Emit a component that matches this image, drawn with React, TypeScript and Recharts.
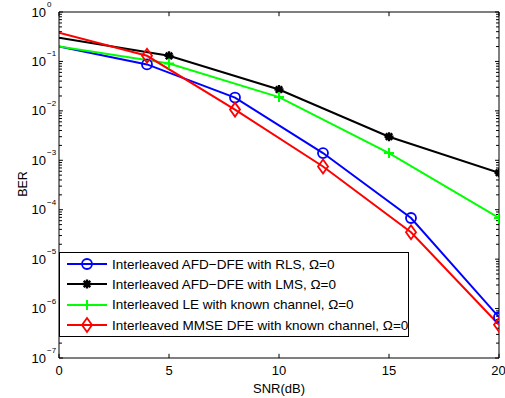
import { Legend, Line, LineChart, ReferenceLine, XAxis, YAxis } from 'recharts';

document.body.style.margin = '0';

// x positions (SNR in dB) for each curve
const snrRls = [0, 4, 8, 12, 16, 20];
const snrLms = [0, 5, 10, 15, 20];
const snrLe = [0, 5, 10, 15, 20];
const snrMmse = [0, 4, 8, 12, 16, 20];

// BER values
const berRls = [0.2, 0.087, 0.0186, 0.0014, 6.8e-5, 6.7e-7];
const berLms = [0.3, 0.13, 0.027, 0.003, 5.6e-4];
const berLe = [0.2, 0.091, 0.019, 0.0014, 6.8e-5];
const berMmse = [0.38, 0.13, 0.0106, 7.5e-4, 3.5e-5, 4.7e-7];

const xTicks = [0, 5, 10, 15, 20];
const yExponents = [-7, -6, -5, -4, -3, -2, -1, 0];
const yTicks = yExponents.map((e) => Math.pow(10, e));
const minorTicks = yExponents
    .slice(0, -1)
    .flatMap((e) => [2, 3, 4, 5, 6, 7, 8, 9].map((m) => m * Math.pow(10, e)));

const FONT = '"Liberation Sans", Arial, Helvetica, sans-serif';

const toRows = (xs: number[], ys: number[]) => xs.map((snr, i) => ({ snr, ber: ys[i] }));

type Shape = 'circle' | 'star' | 'plus' | 'diamond';

const Marker = ({ cx, cy, shape, color }: { cx: number; cy: number; shape: Shape; color: string }) => {
    if (shape === 'circle') {
        return <circle cx={cx} cy={cy} r={5} fill="none" stroke={color} strokeWidth={1.8} />;
    }
    if (shape === 'plus') {
        return (
            <path
                d={`M${cx - 5},${cy}H${cx + 5}M${cx},${cy - 5}V${cy + 5}`}
                stroke={color}
                strokeWidth={2}
                fill="none"
            />
        );
    }
    if (shape === 'diamond') {
        return (
            <path
                d={`M${cx},${cy - 7}L${cx + 5},${cy}L${cx},${cy + 7}L${cx - 5},${cy}Z`}
                stroke={color}
                strokeWidth={1.8}
                fill="none"
            />
        );
    }
    const r = 4.5;
    const d = r * 0.72;
    return (
        <path
            d={`M${cx - r},${cy}H${cx + r}M${cx},${cy - r}V${cy + r}M${cx - d},${cy - d}L${cx + d},${cy + d}M${cx - d},${cy + d}L${cx + d},${cy - d}`}
            stroke={color}
            strokeWidth={2.4}
            fill="none"
        />
    );
};

const makeDot = (shape: Shape, color: string) => (props: any) => {
    const { cx, cy, payload, index } = props;
    // the curves start at 0 dB without a marker
    if (payload.snr === 0 || cx == null || cy == null) return <g key={`d-${index}`} />;
    return (
        <g key={`d-${index}`}>
            <Marker cx={cx} cy={cy} shape={shape} color={color} />
        </g>
    );
};

const series = [
    { name: 'Interleaved AFD\u2212DFE with RLS, \u03A9=0', color: '#0000FF', shape: 'circle' as Shape, data: toRows(snrRls, berRls) },
    { name: 'Interleaved AFD\u2212DFE with LMS, \u03A9=0', color: '#000000', shape: 'star' as Shape, data: toRows(snrLms, berLms) },
    { name: 'Interleaved LE with known channel, \u03A9=0', color: '#00FF00', shape: 'plus' as Shape, data: toRows(snrLe, berLe) },
    { name: 'Interleaved MMSE DFE with known channel, \u03A9=0', color: '#FF0000', shape: 'diamond' as Shape, data: toRows(snrMmse, berMmse) },
];

const PowerTick = ({ x, y, payload }: any) => {
    const exp = Math.round(Math.log10(payload.value));
    return (
        <g fontFamily={FONT} fill="#000">
            <text x={x - 5} y={y} dy={4.5} textAnchor="end" fontSize={13}>
                10
            </text>
            <text x={x - 4} y={y} dy={-5} textAnchor="start" fontSize={8}>
                {exp < 0 ? `\u2212${-exp}` : `${exp}`}
            </text>
        </g>
    );
};

const BerLabel = ({ viewBox }: any) => {
    const cx = 27;
    const cy = viewBox.y + viewBox.height / 2 - 1;
    return (
        <text
            x={cx}
            y={cy}
            transform={`rotate(-90, ${cx}, ${cy})`}
            textAnchor="middle"
            fontSize={12.5}
            fontFamily={FONT}
            fill="#000"
        >
            BER
        </text>
    );
};

const LegendBox = () => (
    <div
        style={{
            width: 350,
            height: 85,
            boxSizing: 'border-box',
            border: '1px solid #000',
            background: '#fff',
            paddingTop: 1,
            fontFamily: FONT,
            fontSize: 13.5,
            color: '#000',
        }}
    >
        {series.map((s) => (
            <div key={s.name} style={{ display: 'flex', alignItems: 'center', height: 20.3 }}>
                <svg width={52} height={20} style={{ flex: 'none' }}>
                    <line x1={7} x2={47} y1={10} y2={10} stroke={s.color} strokeWidth={2} />
                    <Marker cx={27} cy={10} shape={s.shape} color={s.color} />
                </svg>
                <span style={{ whiteSpace: 'nowrap' }}>{s.name}</span>
            </div>
        ))}
    </div>
);

const xTickLen = 0.18;
const yTickFactor = Math.pow(10, 0.085);

export default function App() {
    return (
        <LineChart width={505} height={398} margin={{ top: 12, right: 6, bottom: 0, left: 0 }}>
            <XAxis
                type="number"
                dataKey="snr"
                domain={[0, 20]}
                ticks={xTicks}
                allowDataOverflow
                height={40}
                stroke="#000"
                tickLine={false}
                tick={{ fill: '#000', fontSize: 13, fontFamily: FONT }}
                label={{ value: 'SNR(dB)', position: 'insideBottom', offset: 5, fill: '#000', fontSize: 13, fontFamily: FONT }}
            />
            <YAxis
                type="number"
                scale="log"
                domain={[1e-7, 1]}
                ticks={yTicks}
                allowDataOverflow
                width={59}
                stroke="#000"
                tickLine={false}
                tick={<PowerTick />}
                label={<BerLabel />}
            />
            <ReferenceLine x={20} stroke="#000" />
            <ReferenceLine y={1} stroke="#000" />

            {xTicks.map((t) => (
                <ReferenceLine key={`xb-${t}`} segment={[{ x: t, y: 1e-7 }, { x: t, y: 1e-7 * yTickFactor }]} stroke="#000" />
            ))}
            {xTicks.map((t) => (
                <ReferenceLine key={`xt-${t}`} segment={[{ x: t, y: 1 }, { x: t, y: 1 / yTickFactor }]} stroke="#000" />
            ))}
            {yTicks.map((t) => (
                <ReferenceLine key={`yl-${t}`} segment={[{ x: 0, y: t }, { x: xTickLen, y: t }]} stroke="#000" />
            ))}
            {yTicks.map((t) => (
                <ReferenceLine key={`yr-${t}`} segment={[{ x: 20 - xTickLen, y: t }, { x: 20, y: t }]} stroke="#000" />
            ))}
            {minorTicks.map((t) => (
                <ReferenceLine key={`ml-${t}`} segment={[{ x: 0, y: t }, { x: xTickLen * 0.75, y: t }]} stroke="#000" />
            ))}
            {minorTicks.map((t) => (
                <ReferenceLine key={`mr-${t}`} segment={[{ x: 20 - xTickLen * 0.75, y: t }, { x: 20, y: t }]} stroke="#000" />
            ))}

            {series.map((s) => (
                <Line
                    key={s.name}
                    data={s.data}
                    dataKey="ber"
                    name={s.name}
                    type="linear"
                    stroke={s.color}
                    strokeWidth={2}
                    dot={makeDot(s.shape, s.color)}
                    activeDot={false}
                    isAnimationActive={false}
                />
            ))}

            <Legend
                layout="vertical"
                verticalAlign="middle"
                align="center"
                wrapperStyle={{ left: 59, top: 252, width: 350, height: 85 }}
                content={() => <LegendBox />}
            />
        </LineChart>
    );
}
